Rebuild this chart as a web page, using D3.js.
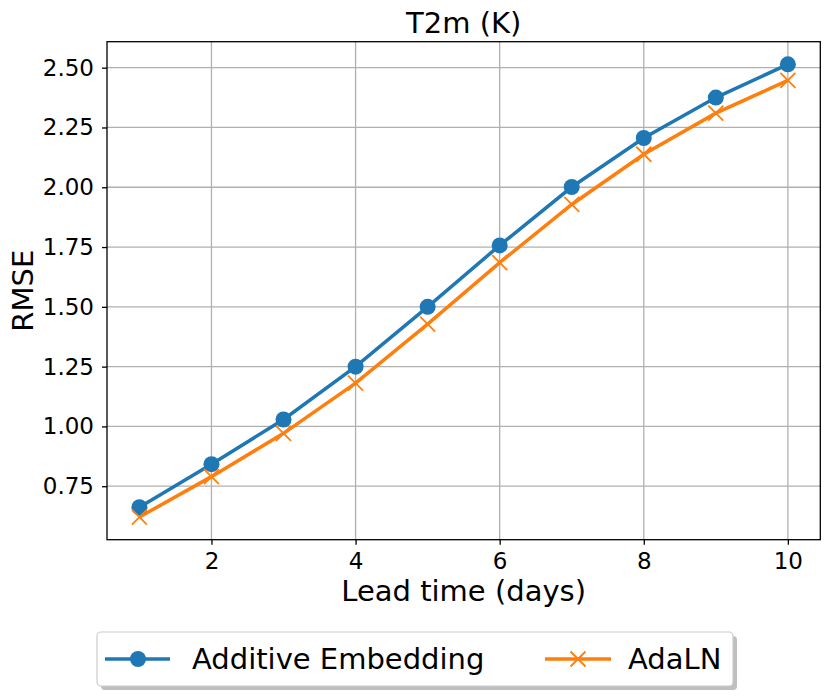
<!DOCTYPE html>
<html>
<head>
<meta charset="utf-8">
<script src="https://cdn.jsdelivr.net/npm/d3@7"></script>
<style>
  body { margin: 0; background: #fff; }
  svg { font-family: "DejaVu Sans", sans-serif; }
</style>
</head>
<body>
<svg width="831" height="696"></svg>
<script>
//Lead time in days
var days = [1, 2, 3, 4, 5, 6, 7, 8, 9, 10];
//RMSE for each model
var additive = [0.662, 0.842, 1.029, 1.25, 1.50, 1.757, 2.001, 2.206, 2.375, 2.514];
var adaln = [0.621, 0.790, 0.971, 1.181, 1.428, 1.685, 1.928, 2.138, 2.31, 2.447];
var seriesNames = ["Additive Embedding", "AdaLN"];
var xTicks = [2, 4, 6, 8, 10];
var yTicks = [0.75, 1.00, 1.25, 1.50, 1.75, 2.00, 2.25, 2.50];

var blue = "#1f77b4", orange = "#ff7f0e";

//Plot area
var pLeft = 107, pRight = 820.3, pTop = 41.7, pBottom = 539.7;

var svg = d3.select("svg");

//matplotlib-like 5% margins
var xPad = (d3.max(days) - d3.min(days)) * 0.05;
var x = d3.scaleLinear()
    .domain([d3.min(days) - xPad, d3.max(days) + xPad])
    .range([pLeft, pRight]);

var yMin = d3.min(adaln), yMax = d3.max(additive);
var yPad = (yMax - yMin) * 0.05;
var y = d3.scaleLinear()
    .domain([yMin - yPad, yMax + yPad])
    .range([pBottom, pTop]);

//Grid lines
var grid = svg.append("g");
grid.selectAll(".gx").data(xTicks).enter().append("line")
    .attr("x1", function(d){ return x(d); }).attr("x2", function(d){ return x(d); })
    .attr("y1", pTop).attr("y2", pBottom)
    .attr("stroke", "#b0b0b0").attr("stroke-width", 1.3);
grid.selectAll(".gy").data(yTicks).enter().append("line")
    .attr("x1", pLeft).attr("x2", pRight)
    .attr("y1", function(d){ return y(d); }).attr("y2", function(d){ return y(d); })
    .attr("stroke", "#b0b0b0").attr("stroke-width", 1.3);

//Axes
var xAxis = svg.append("g")
    .attr("transform", "translate(0," + pBottom + ")")
    .call(d3.axisBottom(x).tickValues(xTicks).tickSize(5).tickPadding(8).tickFormat(d3.format("d")));
var yAxis = svg.append("g")
    .attr("transform", "translate(" + pLeft + ",0)")
    .call(d3.axisLeft(y).tickValues(yTicks).tickSize(5).tickPadding(8).tickFormat(d3.format(".2f")));
[xAxis, yAxis].forEach(function(a){
    a.select(".domain").remove();
    a.attr("font-family", null).attr("font-size", null);
    a.selectAll(".tick line").attr("stroke", "#000").attr("stroke-width", 1.3);
    a.selectAll(".tick text").style("font-size", "23px").attr("fill", "#000");
});

//Frame
svg.append("rect")
    .attr("x", pLeft).attr("y", pTop)
    .attr("width", pRight - pLeft).attr("height", pBottom - pTop)
    .attr("fill", "none").attr("stroke", "#000").attr("stroke-width", 1.3);

//Lines
var line = d3.line()
    .x(function(d, i){ return x(days[i]); })
    .y(function(d){ return y(d); });

svg.append("path").datum(additive)
    .attr("d", line).attr("fill", "none")
    .attr("stroke", blue).attr("stroke-width", 3.5);
svg.append("path").datum(adaln)
    .attr("d", line).attr("fill", "none")
    .attr("stroke", orange).attr("stroke-width", 3.5);

//Markers
svg.selectAll(".dot").data(additive).enter().append("circle")
    .attr("cx", function(d, i){ return x(days[i]); })
    .attr("cy", function(d){ return y(d); })
    .attr("r", 8)
    .attr("fill", blue);

var xm = 7.5;
var crossPath = function(cx, cy, s){
    return "M" + (cx - s) + "," + (cy - s) + "L" + (cx + s) + "," + (cy + s) +
        "M" + (cx - s) + "," + (cy + s) + "L" + (cx + s) + "," + (cy - s);
};
svg.selectAll(".cross").data(adaln).enter().append("path")
    .attr("d", function(d, i){ return crossPath(x(days[i]), y(d), xm); })
    .attr("stroke", orange).attr("stroke-width", 1.8).attr("fill", "none");

//Title and labels
svg.append("text")
    .attr("x", (pLeft + pRight) / 2).attr("y", 33)
    .attr("text-anchor", "middle")
    .style("font-size", "29px")
    .text("T2m (K)");

svg.append("text")
    .attr("transform", "translate(33," + ((pTop + pBottom) / 2) + ") rotate(-90)")
    .attr("text-anchor", "middle")
    .style("font-size", "29px")
    .text("RMSE");

svg.append("text")
    .attr("x", (pLeft + pRight) / 2).attr("y", 601)
    .attr("text-anchor", "middle")
    .style("font-size", "29px")
    .text("Lead time (days)");

//Legend
var lg = svg.append("g");
lg.append("rect")
    .attr("x", 101).attr("y", 636).attr("width", 636).attr("height", 54)
    .attr("rx", 4).attr("fill", "#808080").attr("opacity", 0.5);
lg.append("rect")
    .attr("x", 97).attr("y", 632).attr("width", 636).attr("height", 54)
    .attr("rx", 4).attr("fill", "#fff").attr("stroke", "#cccccc").attr("stroke-width", 1.2);

var ly = 659;
lg.append("line").attr("x1", 105).attr("x2", 170).attr("y1", ly).attr("y2", ly)
    .attr("stroke", blue).attr("stroke-width", 3.5);
lg.append("circle").attr("cx", 138).attr("cy", ly).attr("r", 8).attr("fill", blue);
lg.append("text").attr("x", 192).attr("y", ly + 10)
    .style("font-size", "29px").text(seriesNames[0]);

lg.append("line").attr("x1", 545).attr("x2", 611).attr("y1", ly).attr("y2", ly)
    .attr("stroke", orange).attr("stroke-width", 3.5);
lg.append("path").attr("d", crossPath(578, ly, xm))
    .attr("stroke", orange).attr("stroke-width", 1.8).attr("fill", "none");
lg.append("text").attr("x", 628).attr("y", ly + 10)
    .style("font-size", "29px").text(seriesNames[1]);
</script>
</body>
</html>
